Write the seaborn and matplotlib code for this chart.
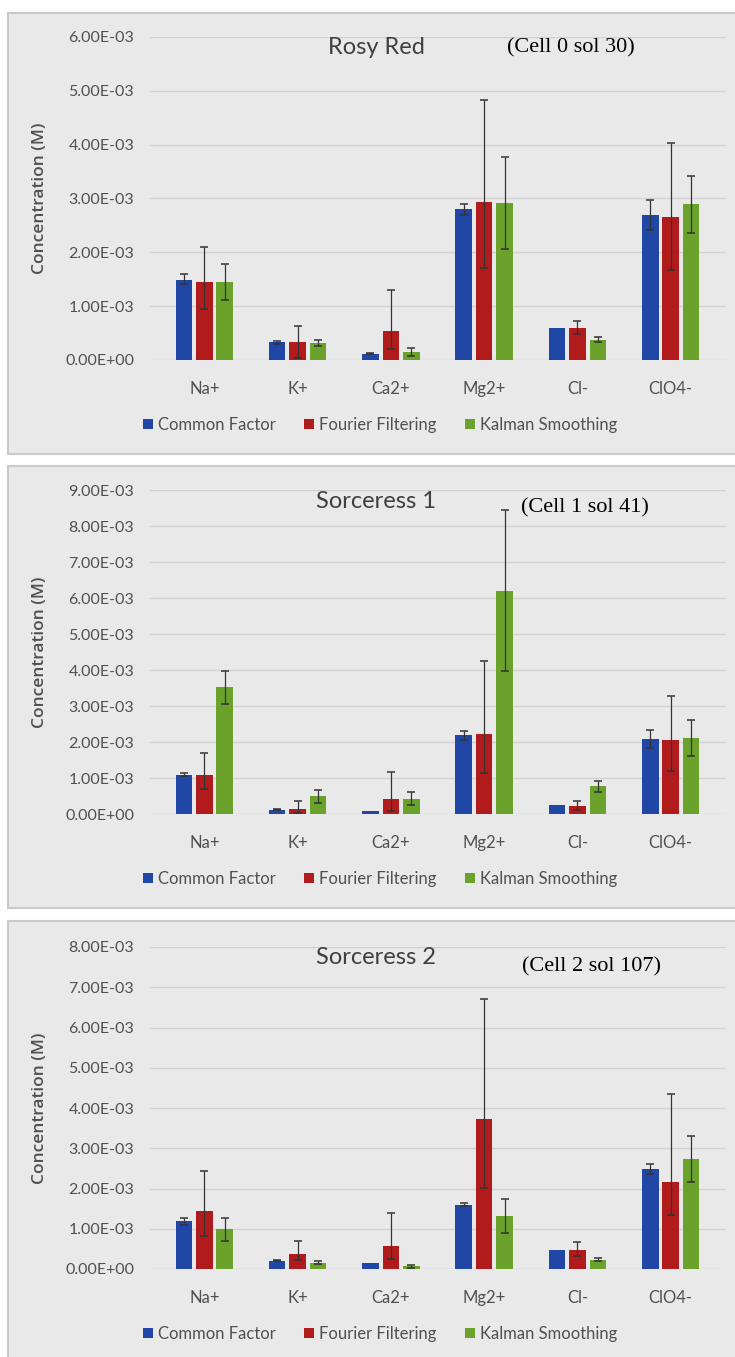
import numpy as np
import pandas as pd
import matplotlib.pyplot as plt
import seaborn as sns
from matplotlib.patches import Rectangle
from matplotlib.ticker import FuncFormatter

ions = ["Na+", "K+", "Ca2+", "Mg2+", "Cl-", "ClO4-"]
methods = ["Common Factor", "Fourier Filtering", "Kalman Smoothing"]
colors = ["#2047A5", "#B21B1C", "#6BA22B"]

titles = ["Rosy Red", "Sorceress 1", "Sorceress 2"]
notes = ["(Cell 0 sol 30)", "(Cell 1 sol 41)", "(Cell 2 sol 107)"]
ymax = [6e-3, 9e-3, 8e-3]

# values in units of 1E-03 M
rr_cf = [1.48, 0.33, 0.12, 2.80, 0.59, 2.70]
rr_cf_lo = [1.41, 0.30, 0.11, 2.69, 0.59, 2.42]
rr_cf_hi = [1.59, 0.36, 0.13, 2.90, 0.59, 2.97]
rr_ff = [1.44, 0.33, 0.53, 2.93, 0.59, 2.65]
rr_ff_lo = [0.95, 0.04, 0.20, 1.71, 0.49, 1.68]
rr_ff_hi = [2.09, 0.63, 1.30, 4.83, 0.73, 4.03]
rr_ks = [1.45, 0.32, 0.15, 2.91, 0.38, 2.90]
rr_ks_lo = [1.12, 0.26, 0.08, 2.06, 0.34, 2.35]
rr_ks_hi = [1.79, 0.37, 0.22, 3.77, 0.42, 3.42]

s1_cf = [1.09, 0.12, 0.09, 2.19, 0.26, 2.08]
s1_cf_lo = [1.06, 0.10, 0.09, 2.06, 0.26, 1.84]
s1_cf_hi = [1.13, 0.14, 0.09, 2.31, 0.26, 2.32]
s1_ff = [1.09, 0.15, 0.42, 2.21, 0.23, 2.06]
s1_ff_lo = [0.69, 0.03, 0.07, 1.13, 0.10, 1.20]
s1_ff_hi = [1.69, 0.36, 1.18, 4.24, 0.37, 3.27]
s1_ks = [3.52, 0.49, 0.42, 6.20, 0.77, 2.10]
s1_ks_lo = [3.05, 0.31, 0.24, 3.97, 0.61, 1.61]
s1_ks_hi = [3.98, 0.66, 0.60, 8.44, 0.93, 2.62]

s2_cf = [1.19, 0.20, 0.14, 1.59, 0.47, 2.48]
s2_cf_lo = [1.10, 0.19, 0.14, 1.56, 0.47, 2.35]
s2_cf_hi = [1.27, 0.22, 0.14, 1.64, 0.47, 2.62]
s2_ff = [1.43, 0.37, 0.58, 3.72, 0.47, 2.15]
s2_ff_lo = [0.82, 0.22, 0.25, 2.01, 0.33, 1.35]
s2_ff_hi = [2.43, 0.70, 1.40, 6.72, 0.67, 4.36]
s2_ks = [1.00, 0.15, 0.07, 1.31, 0.23, 2.73]
s2_ks_lo = [0.70, 0.12, 0.03, 0.90, 0.20, 2.15]
s2_ks_hi = [1.27, 0.19, 0.11, 1.74, 0.27, 3.30]

panels = [
    [(rr_cf, rr_cf_lo, rr_cf_hi), (rr_ff, rr_ff_lo, rr_ff_hi), (rr_ks, rr_ks_lo, rr_ks_hi)],
    [(s1_cf, s1_cf_lo, s1_cf_hi), (s1_ff, s1_ff_lo, s1_ff_hi), (s1_ks, s1_ks_lo, s1_ks_hi)],
    [(s2_cf, s2_cf_lo, s2_cf_hi), (s2_ff, s2_ff_lo, s2_ff_hi), (s2_ks, s2_ks_lo, s2_ks_hi)],
]

W, H = 735, 1357
BG = "#e9e9e9"
TXT = "#505050"

sns.set_theme(style="white")
plt.rcParams["font.family"] = ["Lato", "DejaVu Sans"]

fig = plt.figure(figsize=(W / 100, H / 100), dpi=100)
fig.patch.set_facecolor("white")


def fx(px):
    return px / W


def fy(py):
    return 1 - py / H


# panel boxes: (top, bottom) and axis (top, bottom) in pixels
boxes = [(13, 454), (466, 908), (921, 1372)]
axes_y = [(37, 360), (490, 814), (947, 1269)]
title_y = [48, 502, 957]
note_pos = [(571, 48), (585, 508), (592, 967)]
ax_left, ax_right = 149.5, 725.5

for i in range(3):
    top, bot = boxes[i]
    fig.add_artist(Rectangle((fx(8), fy(bot)), fx(760) - fx(8), fy(top) - fy(bot),
                             transform=fig.transFigure, facecolor=BG,
                             edgecolor="#c9c9c9", linewidth=1.5, zorder=0))

    at, ab = axes_y[i]
    ax = fig.add_axes([fx(ax_left), fy(ab), fx(ax_right) - fx(ax_left), fy(at) - fy(ab)])
    ax.set_facecolor(BG)

    rows = []
    for m, (vals, lo, hi) in zip(methods, panels[i]):
        for ion, v in zip(ions, vals):
            rows.append({"Ion": ion, "Method": m, "Value": v * 1e-3})
    df = pd.DataFrame(rows)

    sns.barplot(data=df, x="Ion", y="Value", hue="Method", palette=colors,
                saturation=1, width=0.656, gap=0.19, errorbar=None, ax=ax,
                linewidth=0)

    for cont, (vals, lo, hi) in zip(ax.containers, panels[i]):
        xs = np.array([p.get_x() + p.get_width() / 2 for p in cont.patches])
        v = np.array(vals) * 1e-3
        lo = np.array(lo) * 1e-3
        hi = np.array(hi) * 1e-3
        mask = (hi - lo) > 1e-6
        ax.errorbar(xs[mask], v[mask], yerr=[v[mask] - lo[mask], hi[mask] - v[mask]],
                    fmt="none", ecolor="#333333", elinewidth=0.9, capsize=3,
                    capthick=1.1, zorder=5)

    ax.set_ylim(0, ymax[i])
    ax.set_yticks(np.arange(0, ymax[i] + 1e-9, 1e-3))
    ax.yaxis.set_major_formatter(FuncFormatter(lambda v, p: f"{v:.2E}"))
    ax.grid(axis="y", color="#d2d2d2", linewidth=1)
    ax.set_axisbelow(True)
    for s in ax.spines.values():
        s.set_visible(False)
    ax.tick_params(axis="y", length=0, pad=11, labelsize=11.5, labelcolor=TXT)
    ax.tick_params(axis="x", length=0, pad=15, labelsize=12, labelcolor=TXT)
    ax.set_xlabel("")
    ax.set_ylabel("Concentration (M)", fontsize=12.5, color=TXT, fontweight="semibold",
                  family=["Open Sans", "DejaVu Sans"])
    ax.yaxis.set_label_coords((48 - ax_left) / (ax_right - ax_left), 0.5)

    sns.move_legend(ax, "center", bbox_to_anchor=((380 - ax_left) / (ax_right - ax_left), -65 / (ab - at)),
                    ncol=3, frameon=False, title=None, fontsize=12,
                    handlelength=0.6, handleheight=0.6, handletextpad=0.3,
                    columnspacing=1.7)
    for t in ax.get_legend().get_texts():
        t.set_color(TXT)

    fig.text(fx(376), fy(title_y[i]), titles[i], ha="center", va="center",
             fontsize=17, color="#404040")
    nx, ny = note_pos[i]
    fig.text(fx(nx), fy(ny), notes[i], ha="center", va="center", fontsize=16,
             color="black", family=["Liberation Serif", "DejaVu Serif"])

fig.savefig("out.png", dpi=100, facecolor="white")
